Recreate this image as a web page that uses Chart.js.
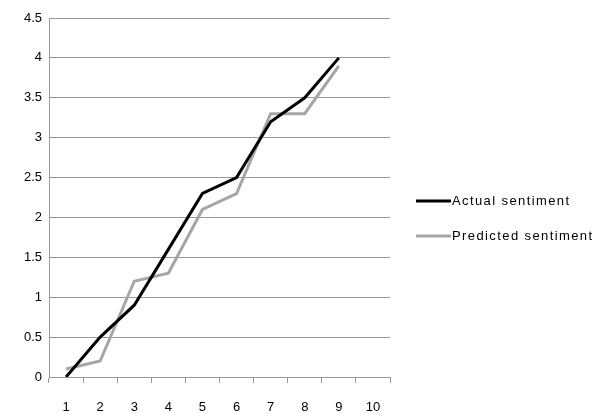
<!DOCTYPE html>
<html>
<head>
<meta charset="UTF-8">
<title>Sentiment</title>
<script src="https://cdn.jsdelivr.net/npm/chart.js"></script>
<style>
  body { margin: 0; background: #fff; }
  #wrap { width: 597px; height: 414px; }
</style>
</head>
<body>
<div id="wrap"><canvas id="chart" width="597" height="414"></canvas></div>
<script>
const categories = ["1", "2", "3", "4", "5", "6", "7", "8", "9", "10"];
const actualSentiment = [0, 0.5, 0.9, 1.6, 2.3, 2.5, 3.2, 3.5, 4.0, null];
const predictedSentiment = [0.1, 0.2, 1.2, 1.3, 2.1, 2.3, 3.3, 3.3, 3.9, null];

const font = { family: "'Liberation Sans', Arial, sans-serif", size: 13 };

// legend drawn by hand so it sits where the original one does
const sideLegend = {
  id: "sideLegend",
  afterDraw(chart) {
    const ctx = chart.ctx;
    const rows = [{ y: 201 }, { y: 236 }];
    ctx.save();
    chart.data.datasets.forEach((ds, i) => {
      const y = rows[i].y;
      ctx.strokeStyle = ds.borderColor;
      ctx.lineWidth = 3;
      ctx.beginPath();
      ctx.moveTo(416, y);
      ctx.lineTo(451, y);
      ctx.stroke();
      ctx.fillStyle = "#000";
      ctx.font = "13px 'Liberation Sans', Arial, sans-serif";
      ctx.letterSpacing = "1.4px";
      ctx.textBaseline = "middle";
      ctx.fillText(ds.label, 452, y);
    });
    ctx.restore();
  }
};

new Chart(document.getElementById("chart"), {
  type: "line",
  data: {
    labels: categories,
    datasets: [
      { label: "Actual sentiment", data: actualSentiment, borderColor: "#000000", backgroundColor: "#000000", borderWidth: 3, pointRadius: 0, tension: 0 },
      { label: "Predicted sentiment", data: predictedSentiment, borderColor: "#a6a6a6", backgroundColor: "#a6a6a6", borderWidth: 3, pointRadius: 0, tension: 0 }
    ]
  },
  plugins: [sideLegend],
  options: {
    responsive: false,
    animation: false,
    layout: { padding: { top: 18, right: 207, left: 0, bottom: 0 } },
    plugins: {
      tooltip: { enabled: false },
      legend: { display: false }
    },
    scales: {
      x: {
        offset: true,
        grid: { display: true, drawOnChartArea: false, drawTicks: true, tickLength: 6, color: "#999", offset: true },
        border: { color: "#999" },
        ticks: { font: font, color: "#000", padding: 17, maxRotation: 0 },
        afterFit: s => { s.height = 37; }
      },
      y: {
        min: 0,
        max: 4.5,
        grid: { color: "#999", drawTicks: false },
        border: { color: "#999" },
        ticks: { stepSize: 0.5, font: font, color: "#000", padding: 7, callback: v => String(v) },
        afterFit: s => { s.width = 49; }
      }
    }
  }
});
</script>
</body>
</html>
